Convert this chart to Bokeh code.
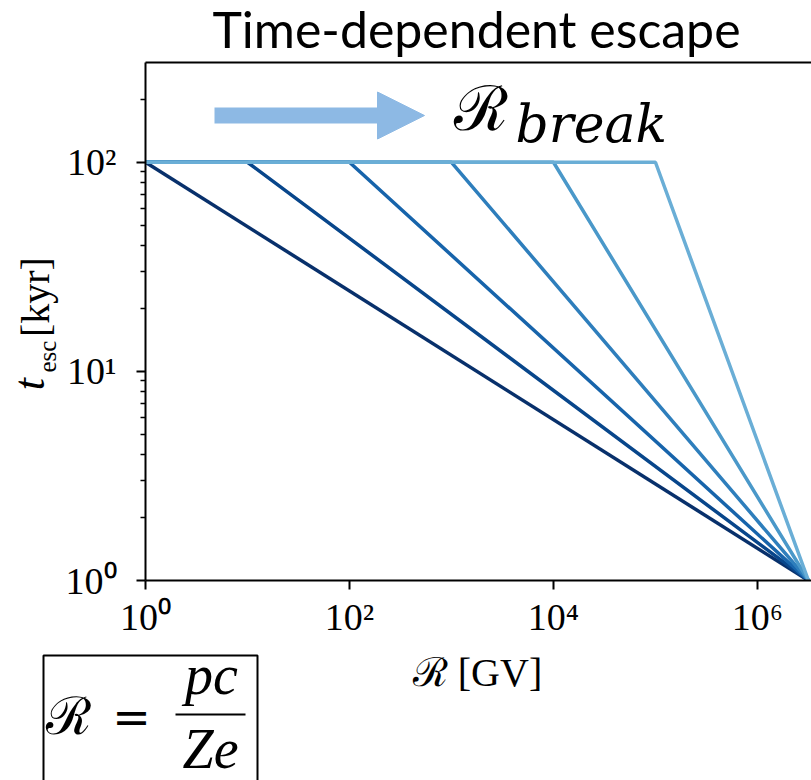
from math import pi

from bokeh.plotting import figure
from bokeh.layouts import column, row
from bokeh.models import (Range1d, FixedTicker, LogAxis, Label, Arrow,
                          NormalHead, ColumnDataSource)
from bokeh.core.properties import value
from bokeh.embed import file_html
from bokeh.resources import INLINE

# Break rigidities (GV) below which the escape time is flat
r_break = [1e0, 1e1, 1e2, 1e3, 1e4, 1e5]
line_colors = ["#08306b", "#08468b", "#1764ab", "#2e7ebc", "#4a98c9", "#6aaed6"]
t_plateau = 100.0       # kyr, escape time below the break
t_floor = 1.0           # kyr, escape time at the highest rigidity
r_min = 1.0             # GV
r_max = 10 ** 6.5       # GV, where every curve reaches t_floor

x_ticks = [1e0, 1e2, 1e4, 1e6]
x_tick_labels = ["10⁰", "10²", "10⁴", "10⁶"]
y_ticks = [1e0, 1e1, 1e2]
y_tick_labels = ["10⁰", "10¹", "10²"]
y_minor_ticks = [2, 3, 4, 5, 6, 7, 8, 9, 20, 30, 40, 50, 60, 70, 80, 90, 200]

SERIF = "Liberation Serif"
ARROW_BLUE = "#8db9e4"

W, H = 811, 780
TOP_H, BOTTOM_H, YLAB_W = 58, 139, 60
MID_H = H - TOP_H - BOTTOM_H


def blank(w, h):
    """A plain pixel-space canvas (y grows downwards) for text and decorations."""
    f = figure(width=w, height=h, x_range=Range1d(0, w), y_range=Range1d(h, 0),
               output_backend="svg", toolbar_location=None, min_border=0,
               x_axis_location=None, y_axis_location=None)
    f.outline_line_color = None
    f.grid.visible = False
    f.background_fill_color = "white"
    f.border_fill_color = "white"
    return f


def txt(f, x, y, text, size, font=SERIF, style="normal", angle=0.0,
        align="center", color="black"):
    f.text(x=[x], y=[y], text=[text], text_font=value(font),
           text_font_size=size, text_font_style=style, angle=angle,
           text_align=align, text_baseline="middle", text_color=color)


# ---- title strip -------------------------------------------------------
top_fig = blank(W, TOP_H)
txt(top_fig, 476, 28, "Time-dependent escape", "50px", font="Lato")

# ---- y-axis label strip: t_esc [kyr] -----------------------------------
ylab_fig = blank(YLAB_W, MID_H)
txt(ylab_fig, 29, 420 - TOP_H, "t", "44px", style="italic", angle=pi / 2)
txt(ylab_fig, 47, 389 - TOP_H, "esc", "25px", angle=pi / 2)
txt(ylab_fig, 35, 322 - TOP_H, "[kyr]", "40px", angle=pi / 2)

# ---- main log-log panel ------------------------------------------------
p = figure(width=W - YLAB_W, height=MID_H, x_axis_type="log", y_axis_type="log",
           x_range=Range1d(1, 10 ** 6.53), y_range=Range1d(1, 300),
           output_backend="svg", toolbar_location=None,
           min_border_left=145 - YLAB_W, min_border_right=0,
           min_border_top=62 - TOP_H, min_border_bottom=TOP_H + MID_H - 580)
p.outline_line_color = None
p.xgrid.visible = False
p.ygrid.visible = False
p.background_fill_color = "white"
p.border_fill_color = "white"

# piecewise escape time: flat up to the break, power law down to t_floor at r_max
xs = [[r_min, rb, r_max] for rb in r_break]
ys = [[t_plateau, t_plateau, t_floor] for _ in r_break]
src = ColumnDataSource(dict(xs=xs, ys=ys, color=line_colors))
p.multi_line("xs", "ys", source=src, line_color="color", line_width=3.5)

for ax, ticks, labels, minor in ((p.xaxis[0], x_ticks, x_tick_labels, []),
                                 (p.yaxis[0], y_ticks, y_tick_labels, y_minor_ticks)):
    ax.ticker = FixedTicker(ticks=ticks, minor_ticks=minor)
    ax.major_label_overrides = {t: s for t, s in zip(ticks, labels)}
    ax.axis_line_width = 2
    ax.axis_line_color = "black"
    ax.major_tick_line_width = 2
    ax.minor_tick_line_width = 1.5
    ax.major_tick_in = 0
    ax.major_tick_out = 9
    ax.minor_tick_in = 0
    ax.minor_tick_out = 5
    ax.major_label_text_font = SERIF
    ax.major_label_text_font_size = "38px"
    ax.major_label_text_color = "black"

p.xaxis.major_label_standoff = 6
p.yaxis.major_label_standoff = 20

# top spine
top_spine = LogAxis(ticker=FixedTicker(ticks=[]), axis_line_width=2,
                    major_tick_out=0, minor_tick_out=0, major_tick_in=0,
                    minor_tick_in=0, major_label_standoff=0,
                    major_tick_line_color=None, minor_tick_line_color=None,
                    major_label_text_font_size="0px")
p.add_layout(top_spine, "above")

# arrow showing the break moving to higher rigidity
p.add_layout(Arrow(x_start=69, y_start=465, x_end=279, y_end=465,
                   start_units="screen", end_units="screen",
                   line_width=16, line_color=ARROW_BLUE,
                   end=NormalHead(size=47, fill_color=ARROW_BLUE,
                                  line_color=ARROW_BLUE, line_width=1)))
p.add_layout(Label(x=308, y=472, x_units="screen", y_units="screen",
                   text="ℛ", text_font="DejaVu Serif", text_font_size="62px",
                   text_align="left", text_baseline="middle",
                   text_color="black"))
p.add_layout(Label(x=370, y=457, x_units="screen", y_units="screen",
                   text="break", text_font="DejaVu Serif",
                   text_font_size="52px", text_font_style="italic",
                   text_align="left", text_baseline="middle",
                   text_color="black"))

# ---- bottom strip: x-axis label and boxed definition of rigidity -------
bot = blank(W, BOTTOM_H)
y0 = TOP_H + MID_H
txt(bot, 477, 672 - y0, "ℛ [GV]", "40px")
bot.quad(left=[43], right=[257], top=[655 - y0], bottom=[BOTTOM_H + 10],
         fill_color=None, line_color="black", line_width=2)
txt(bot, 68, 715 - y0, "ℛ", "52px", font="DejaVu Serif")
txt(bot, 131, 716 - y0, "=", "46px", font="DejaVu Serif")
bot.segment(x0=[175], y0=[714 - y0], x1=[245], y1=[714 - y0],
            line_color="black", line_width=2)
txt(bot, 211, 674 - y0, "pc", "56px", style="italic")
txt(bot, 210, 748 - y0, "Ze", "56px", style="italic")

layout = column(top_fig, row(ylab_fig, p), bot)
open("out.html", "w").write(file_html(layout, INLINE))
